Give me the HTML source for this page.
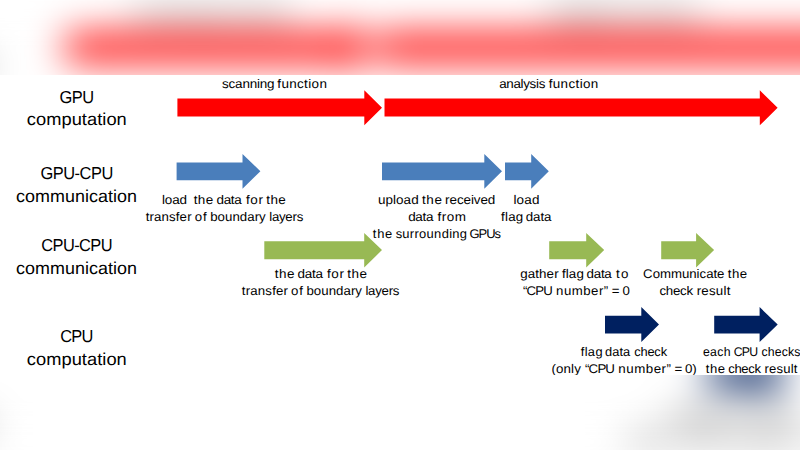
<!DOCTYPE html>
<html><head><meta charset="utf-8"><title>timeline</title>
<style>
html,body{margin:0;padding:0;background:#fff;}
body{width:800px;height:450px;overflow:hidden;}
svg{display:block;}
text{font-family:"Liberation Sans",sans-serif;fill:#000;white-space:pre;text-rendering:geometricPrecision;}
</style></head><body>
<svg width="800" height="450" viewBox="0 0 800 450">
<defs>
<filter id="blur" filterUnits="userSpaceOnUse" x="-300" y="-200" width="1400" height="850" color-interpolation-filters="sRGB"><feGaussianBlur stdDeviation="19"/></filter>
<clipPath id="slide"><rect x="0" y="74.7" width="800" height="300.4"/></clipPath>
<g id="content">
<rect x="-400" y="75" width="1600" height="300" fill="#fff" stroke="none"/>
<polygon stroke="none" fill="#ff0000" points="177.4,98.5 364.3,98.5 364.3,90.3 382.0,107.8 364.3,125.3 364.3,116.6 177.4,116.6"/>
<polygon stroke="none" fill="#ff0000" points="384.5,98.5 759.8,98.5 759.8,90.3 777.6,107.8 759.8,125.3 759.8,116.6 384.5,116.6"/>
<polygon stroke="none" fill="#4a7ebb" points="176.6,162.4 242.5,162.4 242.5,154.0 260.4,171.3 242.5,188.7 242.5,180.2 176.6,180.2"/>
<polygon stroke="none" fill="#4a7ebb" points="382.0,162.4 484.3,162.4 484.3,154.0 502.0,171.3 484.3,188.7 484.3,180.2 382.0,180.2"/>
<polygon stroke="none" fill="#4a7ebb" points="505.0,162.4 531.2,162.4 531.2,154.0 548.8,171.3 531.2,188.7 531.2,180.2 505.0,180.2"/>
<polygon stroke="none" fill="#98b954" points="264.3,241.2 364.2,241.2 364.2,232.9 382.0,250.1 364.2,267.4 364.2,259.2 264.3,259.2"/>
<polygon stroke="none" fill="#98b954" points="549.2,241.2 586.2,241.2 586.2,232.9 604.2,250.1 586.2,267.4 586.2,259.2 549.2,259.2"/>
<polygon stroke="none" fill="#98b954" points="661.2,241.2 696.1,241.2 696.1,232.9 714.1,250.1 696.1,267.4 696.1,259.2 661.2,259.2"/>
<polygon stroke="none" fill="#002060" points="605.0,315.8 641.3,315.8 641.3,307.1 659.0,324.6 641.3,342.1 641.3,333.4 605.0,333.4"/>
<polygon stroke="none" fill="#002060" points="714.2,315.8 759.6,315.8 759.6,307.1 777.7,324.6 759.6,342.1 759.6,333.4 714.2,333.4"/>
<text xml:space="preserve" transform="scale(1.0700 1)" y="87.5" font-size="12.60" x="207.5 213.6 219.7 226.6 233.4 240.2 242.8 249.6 256.1 259.2 263.0 270.3 277.6 284.2 288.0 291.2 298.5">scanning function</text>
<text xml:space="preserve" transform="scale(1.0648 1)" y="87.5" font-size="12.60" x="468.8 475.5 482.2 488.9 491.4 497.4 503.4 506.0 512.3 515.3 519.2 526.5 533.9 540.5 544.4 547.5 554.9">analysis function</text>
<text xml:space="preserve" transform="scale(1.0700 1)" y="203.7" font-size="12.60" x="151.3 154.0 160.9 167.7 174.9 177.9 181.0 184.9 192.3 199.3 202.3 209.0 215.7 218.9 226.8 229.8 233.9 241.5 245.7 248.8 252.7 260.1">load  the data for the</text>
<text xml:space="preserve" transform="scale(1.0523 1)" y="221.0" font-size="12.60" x="138.4 142.0 146.3 153.5 160.7 167.1 170.7 177.9 182.1 185.2 192.9 196.5 199.7 206.8 213.8 220.9 227.9 235.0 242.0 246.2 252.6 255.8 258.4 265.1 271.2 277.9 281.9">transfer of boundary layers</text>
<text xml:space="preserve" transform="scale(1.0694 1)" y="203.7" font-size="12.60" x="353.4 360.5 367.5 370.4 377.4 384.5 391.6 394.7 398.7 406.2 413.1 416.2 420.3 427.3 433.5 440.4 443.1 449.3 456.2">upload the received</text>
<text xml:space="preserve" transform="scale(1.0700 1)" y="220.9" font-size="12.60" x="381.5 388.2 394.9 398.1 405.9 408.9 412.8 417.5 424.9">data from</text>
<text xml:space="preserve" transform="scale(1.0285 1)" y="237.9" font-size="12.60" x="362.5 366.7 374.4 381.4 384.7 391.2 398.5 403.0 407.5 414.8 422.1 429.4 436.7 439.8 447.1 453.5 456.6 465.3 472.7 480.8">the surrounding GPUs</text>
<text xml:space="preserve" transform="scale(1.0700 1)" y="203.7" font-size="12.60" x="479.8 482.8 489.9 497.1">load</text>
<text xml:space="preserve" transform="scale(1.0563 1)" y="220.9" font-size="12.60" x="474.4 478.1 481.1 488.3 494.8 497.8 504.7 511.6 514.9">flag data</text>
<text xml:space="preserve" transform="scale(1.0700 1)" y="277.9" font-size="12.60" x="256.9 260.8 268.2 275.1 278.1 284.8 291.6 294.8 302.6 305.6 309.7 317.3 321.5 324.6 328.5 335.9">the data for the</text>
<text xml:space="preserve" transform="scale(1.0516 1)" y="294.9" font-size="12.60" x="230.0 233.7 238.0 245.2 252.3 258.8 262.4 269.6 273.8 276.8 284.6 288.2 291.4 298.4 305.5 312.5 319.6 326.6 333.7 337.9 344.3 347.5 350.0 356.8 362.8 369.6 373.6">transfer of boundary layers</text>
<text xml:space="preserve" transform="scale(1.0620 1)" y="277.5" font-size="12.60" x="489.9 497.0 504.1 507.6 514.7 521.8 526.0 529.1 532.7 535.6 542.8 549.2 552.2 559.0 565.8 569.0 576.9 580.0 584.7">gather flag data to</text>
<text xml:space="preserve" transform="scale(1.0496 1)" y="294.7" font-size="12.60" x="498.2 501.6 509.9 517.5 526.6 529.8 537.3 544.7 555.7 563.2 570.6 575.3 579.9 582.8 589.9 593.0">“CPU number” = 0</text>
<text xml:space="preserve" transform="scale(1.0510 1)" y="277.5" font-size="12.60" x="611.9 621.0 628.0 638.4 648.9 655.9 662.8 665.6 671.9 678.9 682.3 689.3 692.4 696.4 703.9">Communicate the</text>
<text xml:space="preserve" transform="scale(1.0568 1)" y="294.7" font-size="12.60" x="624.0 630.0 636.8 643.5 649.6 656.1 659.2 663.6 670.9 677.4 684.6 687.6">check result</text>
<text xml:space="preserve" transform="scale(1.0199 1)" y="355.7" font-size="12.60" x="569.5 573.3 576.4 583.8 590.2 593.3 600.3 607.3 610.8 618.7 621.8 627.9 634.8 641.6 647.8">flag data check</text>
<text xml:space="preserve" transform="scale(1.0592 1)" y="372.7" font-size="12.60" x="520.7 525.0 532.1 539.2 542.1 548.5 552.4 555.7 564.0 571.5 580.6 583.8 591.3 598.7 609.6 617.1 624.5 629.2 633.8 636.7 643.8 646.7 653.6">(only “CPU number” = 0)</text>
<text xml:space="preserve" transform="scale(0.9749 1)" y="355.7" font-size="12.60" x="721.0 728.3 735.7 742.3 749.4 752.6 760.9 768.6 777.7 781.0 787.5 794.7 801.9 808.3 814.8">each CPU checks</text>
<text xml:space="preserve" transform="scale(1.0401 1)" y="372.7" font-size="12.60" x="678.6 682.6 690.1 697.1 700.1 706.1 712.7 719.4 725.4 731.9 735.0 739.4 746.5 753.0 760.2 763.1">the check result</text>
<text xml:space="preserve" transform="scale(0.9500 1)" y="102.5" font-size="17.30" x="62.6 75.6 86.7">GPU</text>
<text xml:space="preserve" transform="scale(1.0579 1)" y="125.3" font-size="17.30" x="25.4 34.1 43.8 58.2 67.8 77.4 82.3 91.9 96.7 100.6 110.2">computation</text>
<text xml:space="preserve" transform="scale(0.9500 1)" y="178.9" font-size="17.30" x="42.5 55.5 66.5 78.5 83.8 95.8 106.8">GPU-CPU</text>
<text xml:space="preserve" transform="scale(1.0375 1)" y="202.0" font-size="17.30" x="15.5 24.1 33.8 48.2 62.6 72.2 81.9 85.7 94.4 104.0 108.8 112.7 122.3">communication</text>
<text xml:space="preserve" transform="scale(0.9500 1)" y="250.9" font-size="17.30" x="43.4 55.3 66.2 78.1 83.2 95.1 106.0">CPU-CPU</text>
<text xml:space="preserve" transform="scale(1.0375 1)" y="274.0" font-size="17.30" x="15.5 24.1 33.8 48.2 62.6 72.2 81.9 85.7 94.4 104.0 108.8 112.7 122.3">communication</text>
<text xml:space="preserve" transform="scale(0.9500 1)" y="341.9" font-size="17.30" x="63.3 75.1 85.9">CPU</text>
<text xml:space="preserve" transform="scale(1.0579 1)" y="364.7" font-size="17.30" x="25.4 34.1 43.8 58.2 67.8 77.4 82.3 91.9 96.7 100.6 110.2">computation</text>
</g>
</defs>
<rect x="0" y="0" width="800" height="450" fill="#fff"/>
<g filter="url(#blur)"><use href="#content" transform="translate(400 223.8) scale(1.5) translate(-400 -225)"/></g>
<g clip-path="url(#slide)"><use href="#content"/></g>
</svg>
</body></html>
